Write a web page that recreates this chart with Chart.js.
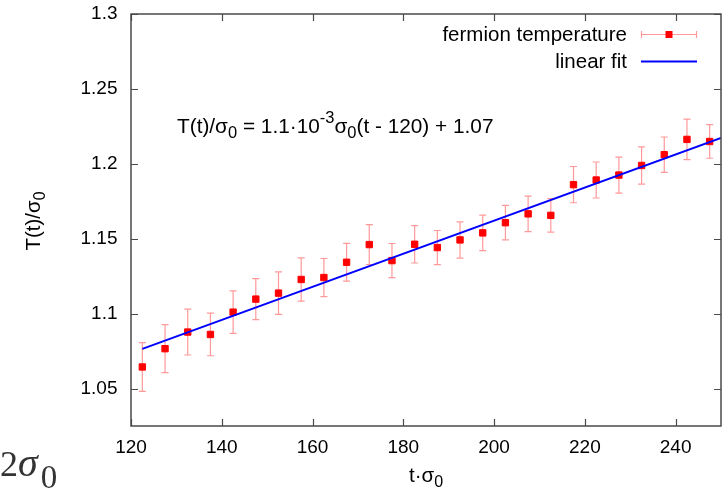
<!DOCTYPE html>
<html><head><meta charset="utf-8">
<script src="https://cdn.jsdelivr.net/npm/chart.js@4.4.0/dist/chart.umd.min.js"></script>
<style>html,body{margin:0;padding:0;background:#fff;}#wrap{width:724px;height:489px;position:relative;}</style>
</head><body><div id="wrap"><canvas id="c" width="724" height="489"></canvas></div>
<script>
const times = [122.5,127.5,132.5,137.5,142.5,147.5,152.5,157.5,162.5,167.5,172.5,177.5,182.5,187.5,192.5,197.5,202.5,207.5,212.5,217.5,222.5,227.5,232.5,237.5,242.5,247.5];
const temps = [1.0644,1.0766,1.0877,1.0861,1.1010,1.1097,1.1137,1.1228,1.1241,1.1343,1.1461,1.1354,1.1463,1.1441,1.1492,1.1539,1.1607,1.1666,1.1656,1.1861,1.1892,1.1925,1.1989,1.2061,1.2163,1.2149];
const errors = [0.0163,0.0160,0.0153,0.0142,0.0142,0.0137,0.0142,0.0144,0.0127,0.0126,0.0133,0.0114,0.0125,0.0114,0.0121,0.0119,0.0115,0.0118,0.0112,0.0121,0.0120,0.0120,0.0124,0.0118,0.0135,0.0112];
const fitTimes = [122.5, 250];
const fitTemps = [1.0765, 1.2172];
const xTicks = [120,140,160,180,200,220,240];
const yTicks = [1.05,1.1,1.15,1.2,1.25,1.3];
const legendLabels = ['fermion temperature','linear fit'];

const FONT = '"Liberation Sans", Arial, sans-serif';
const SERIF = '"Liberation Serif", "DejaVu Serif", serif';
const ERR_COLOR = 'rgba(255,70,70,0.55)';

function drawRich(ctx, segs, x, y, align) {
  let total = 0;
  const f = s => (s.style ? s.style + ' ' : '') + s.size + 'px ' + (s.family || FONT);
  for (const s of segs) { ctx.font = f(s); total += ctx.measureText(s.t).width + (s.gap || 0); }
  let cx = align === 'center' ? x - total / 2 : x;
  for (const s of segs) {
    ctx.font = f(s);
    cx += (s.gap || 0);
    ctx.fillText(s.t, cx, y + (s.dy || 0));
    cx += ctx.measureText(s.t).width;
  }
}

const decor = {
  id: 'decor',
  beforeDatasetsDraw(chart) {
    const ctx = chart.ctx, xs = chart.scales.x, ys = chart.scales.y;
    ctx.save();
    ctx.strokeStyle = ERR_COLOR; ctx.lineWidth = 1.2;
    for (let i = 0; i < times.length; i++) {
      const px = xs.getPixelForValue(times[i]);
      const top = ys.getPixelForValue(temps[i] + errors[i]);
      const bot = ys.getPixelForValue(temps[i] - errors[i]);
      ctx.beginPath();
      ctx.moveTo(px, top); ctx.lineTo(px, bot);
      ctx.moveTo(px - 3.5, top); ctx.lineTo(px + 3.5, top);
      ctx.moveTo(px - 3.5, bot); ctx.lineTo(px + 3.5, bot);
      ctx.stroke();
    }
    ctx.restore();
  },
  afterDraw(chart) {
    const ctx = chart.ctx, a = chart.chartArea, xs = chart.scales.x, ys = chart.scales.y;
    ctx.save();
    ctx.strokeStyle = '#4a4a4a'; ctx.lineWidth = 1.5;
    ctx.strokeRect(a.left, a.top, a.right - a.left, a.bottom - a.top);
    ctx.lineWidth = 1.2;
    ctx.beginPath();
    for (const v of xTicks) {
      const p = Math.round(xs.getPixelForValue(v)) + 0.5;
      ctx.moveTo(p, a.bottom); ctx.lineTo(p, a.bottom - 7);
      ctx.moveTo(p, a.top); ctx.lineTo(p, a.top + 7);
    }
    for (const v of yTicks) {
      const p = Math.round(ys.getPixelForValue(v)) + 0.5;
      ctx.moveTo(a.left, p); ctx.lineTo(a.left + 7, p);
      ctx.moveTo(a.right, p); ctx.lineTo(a.right - 7, p);
    }
    ctx.stroke();

    // legend
    ctx.fillStyle = '#000';
    ctx.font = '20.5px ' + FONT;
    ctx.textAlign = 'right'; ctx.textBaseline = 'middle';
    ctx.fillText(legendLabels[0], 627, 35);
    ctx.fillText(legendLabels[1], 627, 62);
    ctx.strokeStyle = ERR_COLOR; ctx.lineWidth = 1.2;
    ctx.beginPath();
    ctx.moveTo(641, 34.5); ctx.lineTo(697, 34.5);
    ctx.moveTo(641.5, 31); ctx.lineTo(641.5, 38);
    ctx.moveTo(696.5, 31); ctx.lineTo(696.5, 38);
    ctx.stroke();
    ctx.fillStyle = '#ff0000';
    ctx.fillRect(665.5, 31, 7, 7);
    ctx.strokeStyle = '#0000ff'; ctx.lineWidth = 2;
    ctx.beginPath(); ctx.moveTo(641, 61.5); ctx.lineTo(697, 61.5); ctx.stroke();

    // equation
    ctx.fillStyle = '#000';
    ctx.textAlign = 'left'; ctx.textBaseline = 'alphabetic';
    drawRich(ctx, [
      {t:'T(t)/σ', size:20.8}, {t:'0', size:16.5, dy:5},
      {t:' = 1.1·10', size:20.8}, {t:'-3', size:16.5, dy:-10},
      {t:'σ', size:20.8}, {t:'0', size:16.5, dy:5},
      {t:'(t - 120) + 1.07', size:20.8}
    ], 177, 133, 'left');

    // axis titles
    drawRich(ctx, [{t:'t·σ', size:20.5}, {t:'0', size:16, dy:5}], 426, 482, 'center');
    ctx.save();
    ctx.translate(40, 221); ctx.rotate(-Math.PI / 2);
    drawRich(ctx, [{t:'T(t)/σ', size:20.5}, {t:'0', size:16, dy:5}], 0, 0, 'center');
    ctx.restore();

    // fragment of surrounding text at bottom-left
    ctx.fillStyle = '#333';
    drawRich(ctx, [
      {t:'2', size:36, family:SERIF},
      {t:'σ', size:40, style:'italic', family:SERIF},
      {t:'0', size:33, dy:12, gap:3, family:SERIF}
    ], 0, 476, 'left');
    ctx.restore();
  }
};

new Chart(document.getElementById('c'), {
  type: 'scatter',
  data: {
    datasets: [
      { label: legendLabels[1], data: fitTimes.map((t, i) => ({x: t, y: fitTemps[i]})),
        showLine: true, borderColor: '#0000ff', borderWidth: 2, pointRadius: 0, order: 0 },
      { label: legendLabels[0], data: times.map((t, i) => ({x: t, y: temps[i]})),
        pointStyle: 'rect', pointRadius: 4.5, pointBackgroundColor: '#ff0000',
        pointBorderColor: '#ff0000', pointBorderWidth: 1, order: 1 }
    ]
  },
  options: {
    responsive: false, animation: false, devicePixelRatio: 1,
    layout: { autoPadding: false, padding: { top: 14, right: 3, left: 0, bottom: 0 } },
    plugins: { legend: { display: false }, tooltip: { enabled: false } },
    scales: {
      x: { type: 'linear', min: 120, max: 250,
        afterBuildTicks: s => { s.ticks = xTicks.map(v => ({value: v})); },
        afterFit: s => { s.height = 63; s.paddingLeft = 0; s.paddingRight = 0; },
        grid: { display: true, drawOnChartArea: false, drawTicks: false, color: 'rgba(0,0,0,0)' },
        border: { display: false },
        ticks: { color: '#000', font: { family: FONT, size: 19 }, padding: 10, maxRotation: 0 } },
      y: { type: 'linear', min: 1.025, max: 1.3,
        afterBuildTicks: s => { s.ticks = yTicks.map(v => ({value: v})); },
        afterFit: s => { s.width = 131; s.paddingTop = 0; s.paddingBottom = 0; },
        grid: { display: true, drawOnChartArea: false, drawTicks: false, color: 'rgba(0,0,0,0)' },
        border: { display: false },
        ticks: { color: '#000', font: { family: FONT, size: 19 }, padding: 13.5,
          callback: v => String(Math.round(v * 1000) / 1000) } }
    }
  },
  plugins: [decor]
});
</script></body></html>
